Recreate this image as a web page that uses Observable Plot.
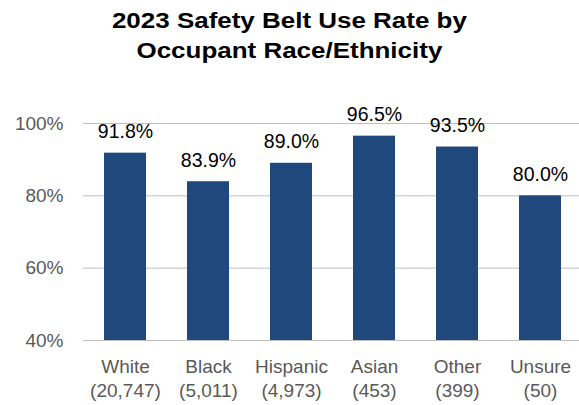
<!DOCTYPE html>
<html>
<head>
<meta charset="utf-8">
<script src="https://cdn.jsdelivr.net/npm/d3@7"></script>
<script src="https://cdn.jsdelivr.net/npm/@observablehq/plot@0.6"></script>
<style>
  body { margin: 0; background: #fff; overflow: hidden; }
  #title { font-family: "Liberation Sans", Arial, sans-serif; font-weight: bold; font-size: 22px; line-height: 30px; text-align: center; color: #000; padding-top: 6px; height: 68px; box-sizing: border-box; width: 579px; }
  #title span { display: inline-block; transform: scaleX(1.18); transform-origin: center; }
  #chart svg { display: block; }
</style>
</head>
<body>
<div id="title"><span>2023 Safety Belt Use Rate by<br>Occupant Race/Ethnicity</span></div>
<div id="chart"></div>
<script>
const categories = ["White", "Black", "Hispanic", "Asian", "Other", "Unsure"];
const counts = ["20,747", "5,011", "4,973", "453", "399", "50"];
const rates = [91.8, 83.9, 89.0, 96.5, 93.5, 80.0];
const yTicks = [40, 60, 80, 100];

const data = categories.map((c, i) => ({category: c, count: counts[i], rate: rates[i]}));
const labelOf = Object.fromEntries(categories.map((c, i) => [c, `${c}\n(${counts[i]})`]));

const chart = Plot.plot({
  width: 579,
  height: 337,
  marginTop: 55,
  marginLeft: 83,
  marginRight: -2,
  marginBottom: 65,
  style: {fontFamily: "'Liberation Sans', Arial, sans-serif", fontSize: "19px", background: "#fff"},
  x: {domain: categories, paddingInner: 0.5, paddingOuter: 0.25, label: null},
  y: {domain: [40, 100], label: null},
  marks: [
    Plot.ruleY(yTicks, {stroke: "#bfbfbf", strokeWidth: 1}),
    Plot.barY(data, {x: "category", y1: 40, y2: "rate", fill: "#1f497d"}),
    Plot.text(data, {x: "category", y: "rate", text: d => d.rate.toFixed(1) + "%", lineAnchor: "bottom", dy: -15, fill: "#000", fontSize: 19.5}),
    Plot.axisY(yTicks, {tickSize: 0, tickPadding: 20, tickFormat: d => d + "%", fill: "#595959", fontSize: 19, label: null}),
    Plot.axisX({tickSize: 0, tickPadding: 15, tickFormat: d => labelOf[d], fill: "#595959", fontSize: 19, lineHeight: 1.28, label: null})
  ]
});
document.getElementById("chart").appendChild(chart);
</script>
</body>
</html>
